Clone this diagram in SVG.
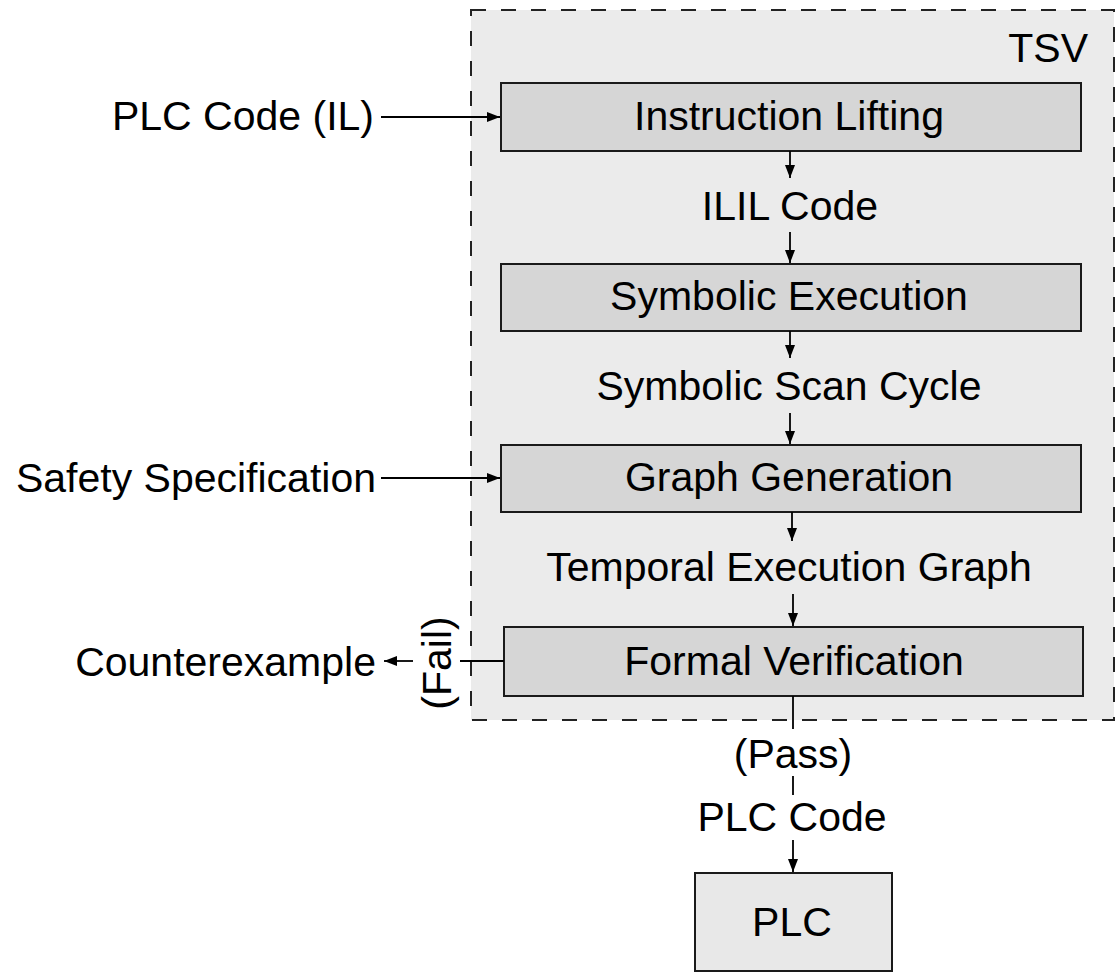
<svg xmlns="http://www.w3.org/2000/svg" width="1116" height="972" viewBox="0 0 1116 972">
<style>
text{font-family:"Liberation Sans",Arial,Helvetica,sans-serif;font-size:41px;fill:#000}
.c{text-anchor:middle}
.box{fill:#d6d6d6;stroke:#1a1a1a;stroke-width:2}
.plc{fill:#e8e8e8;stroke:#1a1a1a;stroke-width:2}
.ln{stroke:#000;stroke-width:1.8;fill:none}
</style>
<defs>
<marker id="ah" viewBox="0 0 13 10" refX="13" refY="5" markerWidth="13" markerHeight="10" markerUnits="userSpaceOnUse" orient="auto">
<path d="M0,0 L13,5 L0,10 Z" fill="#000"/>
</marker>
</defs>
<rect width="1116" height="972" fill="#fff"/>
<g id="tsv">
<rect x="471" y="10" width="643" height="710" fill="#ebebeb" stroke="#222" stroke-width="2" stroke-dasharray="15 15"/>
<text x="1088" y="62" text-anchor="end">TSV</text>
</g>
<g id="instruction-lifting">
<rect class="box" x="501" y="83" width="580" height="68"/>
<text class="c" x="789" y="130">Instruction Lifting</text>
</g>
<g id="symbolic-execution">
<rect class="box" x="501" y="264" width="580" height="67"/>
<text class="c" x="789" y="310">Symbolic Execution</text>
</g>
<g id="graph-generation">
<rect class="box" x="501" y="445" width="580" height="67"/>
<text class="c" x="789" y="491">Graph Generation</text>
</g>
<g id="formal-verification">
<rect class="box" x="504" y="627" width="579" height="69"/>
<text class="c" x="794" y="675">Formal Verification</text>
</g>
<g id="plc">
<rect class="plc" x="695" y="873" width="197" height="98"/>
<text class="c" x="792" y="936">PLC</text>
</g>
<g id="labels">
<text x="374" y="130" text-anchor="end">PLC Code (IL)</text>
<text x="376" y="492" text-anchor="end">Safety Specification</text>
<text x="376" y="676" text-anchor="end">Counterexample</text>
<text class="c" x="790" y="220">ILIL Code</text>
<text class="c" x="789" y="400">Symbolic Scan Cycle</text>
<text class="c" x="789" y="581">Temporal Execution Graph</text>
<text class="c" x="793" y="768">(Pass)</text>
<text class="c" x="792" y="831">PLC Code</text>
<text class="c" transform="translate(451,663) rotate(-90)" x="0" y="0">(Fail)</text>
</g>
<g id="connectors">
<line class="ln" x1="381" y1="117" x2="500" y2="117" marker-end="url(#ah)"/>
<line class="ln" x1="381" y1="478" x2="500" y2="478" marker-end="url(#ah)"/>
<line class="ln" x1="790" y1="151" x2="790" y2="178" marker-end="url(#ah)"/>
<line class="ln" x1="790" y1="232" x2="790" y2="263" marker-end="url(#ah)"/>
<line class="ln" x1="790" y1="331" x2="790" y2="358" marker-end="url(#ah)"/>
<line class="ln" x1="790" y1="413" x2="790" y2="444" marker-end="url(#ah)"/>
<line class="ln" x1="792" y1="512" x2="792" y2="541" marker-end="url(#ah)"/>
<line class="ln" x1="793" y1="594" x2="793" y2="626" marker-end="url(#ah)"/>
<line class="ln" x1="504" y1="661" x2="460" y2="661"/>
<line class="ln" x1="413" y1="661" x2="384" y2="661" marker-end="url(#ah)"/>
<line class="ln" x1="793" y1="696" x2="793" y2="729"/>
<line class="ln" x1="793" y1="776" x2="793" y2="795"/>
<line class="ln" x1="793" y1="840" x2="793" y2="872" marker-end="url(#ah)"/>
</g>
</svg>
